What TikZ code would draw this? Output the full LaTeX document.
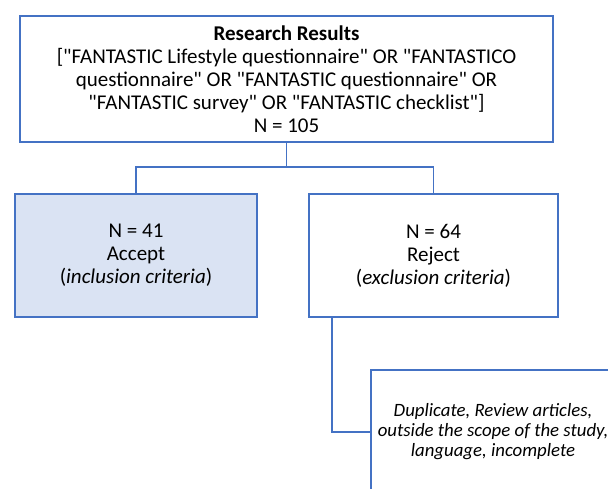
\documentclass[tikz,border=0pt]{standalone}
\usepackage{fontspec}
\setmainfont{Carlito}[Ligatures=TeXOff]
\definecolor{wordblue}{HTML}{4472C4}
\definecolor{paleblue}{HTML}{DAE3F3}
\tikzset{
	box/.style={draw=wordblue, line width=2pt, align=center, inner sep=0pt, font=\fontsize{21}{23}\selectfont},
	link/.style={draw=wordblue, line width=1.2pt}
}
\begin{document}
\begin{tikzpicture}[x=1pt,y=-1pt]
	\useasboundingbox (0,0) rectangle (608,489);
	\clip (0,0) rectangle (608,489);
	\node[box, minimum width=533pt, minimum height=126pt] (results) at (286.5,79)
		{\textbf{Research Results}\\ {[}"FANTASTIC Lifestyle questionnaire" OR "FANTASTICO\\ questionnaire" OR "FANTASTIC questionnaire" OR\\ "FANTASTIC survey" OR "FANTASTIC checklist"{]}\\ N = 105};
	\node[box, fill=paleblue, minimum width=242pt, minimum height=123pt] (accept) at (136,255.5)
		{N = 41\\ Accept\\ (\textit{inclusion criteria})};
	\node[box, minimum width=249pt, minimum height=123pt] (reject) at (433.5,255.5)
		{N = 64\\ Reject\\ (\textit{exclusion criteria})};
	\node[box, minimum width=244pt, minimum height=124pt, font=\fontsize{18.8}{20}\selectfont\itshape] (reasons) at (493,432)
		{Duplicate, Review articles,\\ outside the scope of the study,\\ language, incomplete};
	% tree lines
	\draw[link] (results.south) -- ++(0,24) -| (accept.north);
	\draw[link] (results.south) -- ++(0,24) -| (reject.north);
	\draw[link] ([xshift=24pt]reject.south west) |- (reasons.west);
\end{tikzpicture}
\end{document}
